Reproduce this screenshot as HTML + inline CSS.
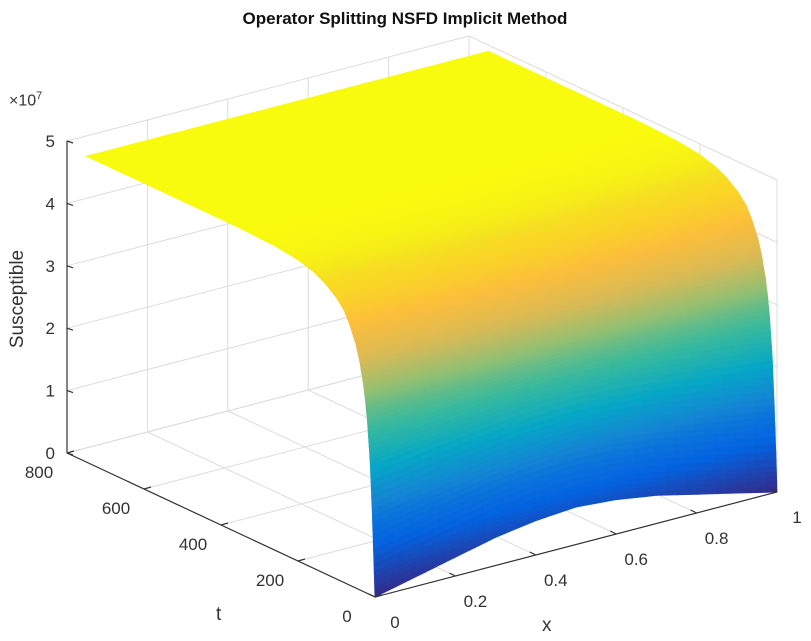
<!DOCTYPE html>
<html><head><meta charset="utf-8"><style>
html,body{margin:0;padding:0;background:#fff;}
svg{display:block;font-family:"Liberation Sans",sans-serif;}
</style></head><body>
<svg id="chart" width="811" height="641" viewBox="0 0 811 641" xmlns="http://www.w3.org/2000/svg">
<text x="405" y="24" text-anchor="middle" font-size="17" font-weight="bold" fill="#111">Operator Splitting NSFD Implicit Method</text>
<g id="grid"></g>
<g id="surf"></g>
<g id="axes"></g>
</svg>
<script>
// data
const tSamples = [0,2,5,8,12,16,20,25,30,40,50,65,80,100,130,160,200,260,350,500,650,750];
const growthFrac = [0,0.08,0.2,0.3,0.42,0.5,0.57,0.63,0.68,0.75,0.8,0.85,0.89,0.92,0.95,0.97,0.985,0.995,1,1,1,1];
const xSamples = [0,0.1,0.2,0.3,0.4,0.5,0.6,0.7,0.8,0.9,1];
const initialS = [0,0.15,0.3,0.45,0.55,0.6,0.55,0.45,0.3,0.15,0]; // ×1e7 at t=0
const plateauS = 4.9; // ×1e7
const zTicks = [0,1,2,3,4,5];
const tTicks = [0,200,400,600,800];
const xTicks = [0,0.2,0.4,0.6,0.8,1];
const xTickLabels = ["0","0.2","0.4","0.6","0.8","1"];

const NS='http://www.w3.org/2000/svg';
function P(x,t,z){return [375+402*x-308*t/800, 597-105*x-144*t/800-62.4*z];}
function mk(tag,attrs,parent){const e=document.createElementNS(NS,tag);for(const k in attrs)e.setAttribute(k,attrs[k]);parent.appendChild(e);return e;}
const parula=[[0,[53,42,135]],[0.1,[3,99,225]],[0.2,[20,133,212]],[0.3,[6,167,198]],[0.4,[56,185,158]],[0.5,[146,191,115]],[0.6,[217,186,86]],[0.7,[252,190,60]],[0.8,[250,210,40]],[0.9,[245,230,30]],[1,[249,251,14]]];
const cIn=[0,0.25,0.45,0.6,0.85,0.95,1], cOut=[0,0.15,0.33,0.45,0.7,0.85,1];
function remap(r){r=Math.max(0,Math.min(1,r));for(let i=1;i<cIn.length;i++){if(r<=cIn[i]){const f=(r-cIn[i-1])/(cIn[i]-cIn[i-1]);return cOut[i-1]+(cOut[i]-cOut[i-1])*f;}}return 1;}
function col(v){v=remap(v);for(let i=1;i<parula.length;i++){if(v<=parula[i][0]){const a=parula[i-1],b=parula[i];const f=(v-a[0])/(b[0]-a[0]);return 'rgb('+a[1].map((c,j)=>Math.round(c+(b[1][j]-c)*f)).join(',')+')';}}return 'rgb(249,251,14)';}

// grid
const grid=document.getElementById('grid');
const gs={stroke:'#dcdcdc','stroke-width':1,fill:'none'};
function line(a,b,par,st){return mk('line',Object.assign({x1:a[0],y1:a[1],x2:b[0],y2:b[1]},st),par);}
zTicks.forEach(z=>{line(P(0,800,z),P(1,800,z),grid,gs);line(P(1,800,z),P(1,0,z),grid,gs);});
xTicks.forEach(x=>{line(P(x,800,0),P(x,800,5),grid,gs);line(P(x,0,0),P(x,800,0),grid,gs);});
tTicks.forEach(t=>{line(P(1,t,0),P(1,t,5),grid,gs);line(P(0,t,0),P(1,t,0),grid,gs);});

// surface
const surf=document.getElementById('surf');
const tt=[],gg=[];
for(let i=0;i<tSamples.length-1;i++){const n=5;for(let k=0;k<n;k++){const f=k/n;tt.push(tSamples[i]+(tSamples[i+1]-tSamples[i])*f);gg.push(growthFrac[i]+(growthFrac[i+1]-growthFrac[i])*f);}}
tt.push(tSamples[tSamples.length-1]);gg.push(growthFrac[growthFrac.length-1]);
const xx=[],s0=[];
for(let j=0;j<xSamples.length-1;j++){const n=4;for(let k=0;k<n;k++){const f=k/n;xx.push(xSamples[j]+(xSamples[j+1]-xSamples[j])*f);s0.push(initialS[j]+(initialS[j+1]-initialS[j])*f);}}
xx.push(xSamples[xSamples.length-1]);s0.push(initialS[initialS.length-1]);
function S(j,g){return s0[j]+(plateauS-s0[j])*g;}
for(let i=tt.length-2;i>=0;i--){
  for(let j=0;j<xx.length-1;j++){
    const z00=S(j,gg[i]),z01=S(j+1,gg[i]),z10=S(j,gg[i+1]),z11=S(j+1,gg[i+1]);
    const pts=[P(xx[j],tt[i],z00),P(xx[j+1],tt[i],z01),P(xx[j+1],tt[i+1],z11),P(xx[j],tt[i+1],z10)];
    const c=col((z00+z01+z10+z11)/4/plateauS);
    const q=mk('polygon',{points:pts.map(p=>p.map(v=>v.toFixed(1)).join(',')).join(' '),fill:c,stroke:c,'stroke-width':0.8},surf);
    
    
  }
}

// axes
const ax=document.getElementById('axes');
const as={stroke:'#333','stroke-width':1.2};
line(P(0,800,0),P(0,800,5),ax,as);
line(P(0,0,0),P(0,800,0),ax,as);
line(P(0,0,0),P(1,0,0),ax,as);
zTicks.forEach(z=>{const p=P(0,800,z);line(p,[p[0]+6,p[1]+2],ax,as);
  const t=mk('text',{x:p[0]-12,y:p[1]+6,'text-anchor':'end','font-size':17,fill:'#333'},ax);t.textContent=z;
  
  });
tTicks.forEach(tv=>{const p=P(0,tv,0);line(p,[p[0]+7,p[1]-2],ax,as);
  const t=mk('text',{x:p[0]-28,y:p[1]+25,'text-anchor':'middle','font-size':17,fill:'#333'},ax);t.textContent=tv;
  
  });
xTicks.forEach((xv,i)=>{const p=P(xv,0,0);line(p,[p[0]-6,p[1]-3],ax,as);
  const t=mk('text',{x:p[0]+20,y:p[1]+31,'text-anchor':'middle','font-size':17,fill:'#333'},ax);t.textContent=xTickLabels[i];
  
  });
</script>
<div style="position:absolute;left:0;top:0;width:811px;height:641px;pointer-events:none;font-family:'Liberation Sans',sans-serif;color:#333;">
<div style="position:absolute;left:9px;top:90px;font-size:16px;">×10<sup style="font-size:11px;">7</sup></div>
<div style="position:absolute;left:-32px;top:288px;font-size:19px;transform:rotate(-90deg);width:100px;text-align:center;">Susceptible</div>
<div style="position:absolute;left:216px;top:604px;font-size:19px;">t</div>
<div style="position:absolute;left:542px;top:615px;font-size:19px;">x</div>
</div>
</body></html>
